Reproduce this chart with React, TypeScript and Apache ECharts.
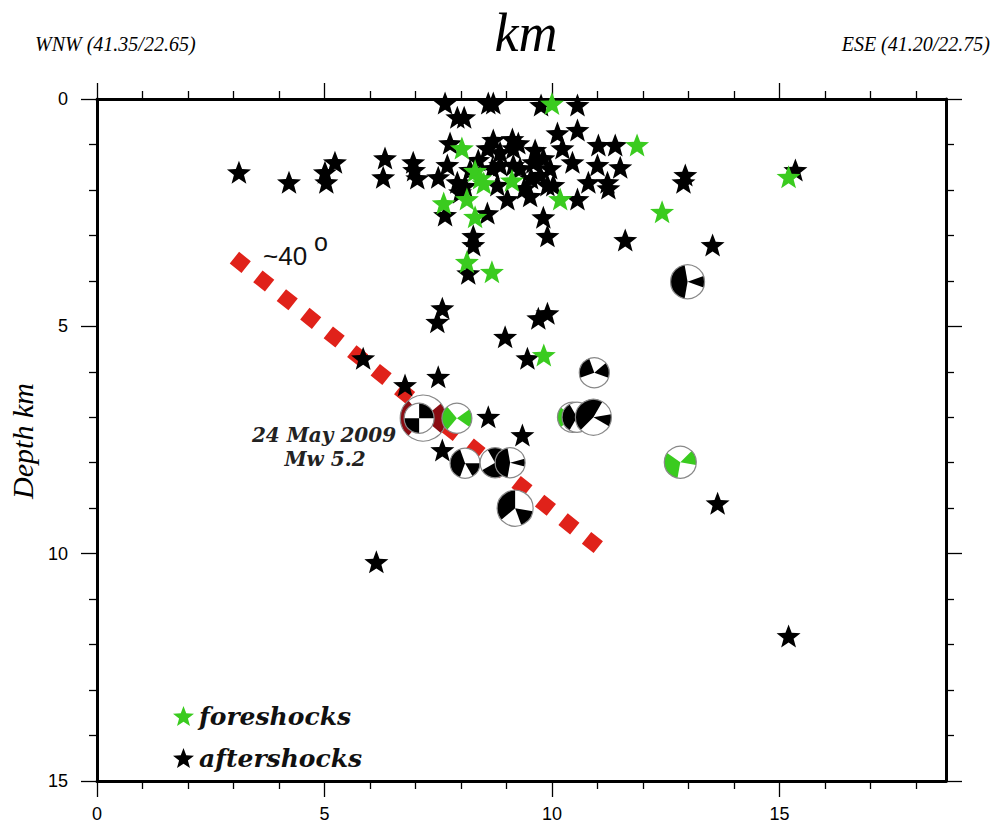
import React, { useEffect, useRef } from "react";
import * as echarts from "echarts";

// ---------- data ----------
const X_MAX = 18.66;
const X_TICK_MAX = 15;
const DEPTH_MAX = 15;

// foreshocks (green stars): distance along profile (km), depth (km)
const foreX = [10.0, 8.02, 8.31, 8.42, 8.5, 9.12, 7.62, 8.13, 8.31, 10.18, 11.87, 12.42, 15.2, 8.13, 8.68, 9.82];
const foreDepth = [0.1, 1.08, 1.58, 1.74, 1.85, 1.79, 2.29, 2.2, 2.59, 2.2, 1.01, 2.48, 1.71, 3.58, 3.8, 5.63];

// aftershocks (black stars)
const afterX = [
  7.65, 8.6, 8.71, 9.76, 10.56, 7.92, 8.07, 3.12, 4.22, 5.23, 5.01, 5.04, 6.33, 6.29, 6.95, 6.97, 7.04, 7.5,
  7.76, 7.7, 7.92, 7.98, 7.65, 8.58, 9.02, 8.58, 8.71, 8.86, 9.13, 9.15, 8.69, 8.86, 9.15, 9.3, 9.26, 9.63,
  9.59, 9.81, 9.96, 9.74, 9.9, 10.03, 10.12, 10.56, 11.02, 11.39, 10.45, 11.0, 11.5, 10.8, 11.22, 11.24,
  10.56, 9.52, 9.81, 9.9, 8.27, 8.27, 8.16, 12.93, 12.89, 15.35, 11.61, 13.53, 7.59, 7.48, 9.9, 9.7, 8.97,
  9.46, 5.85, 6.77, 7.5, 8.6, 9.35, 7.59, 6.14, 15.2, 13.64, 8.38, 8.2, 10.23, 9.54, 9.39, 8.8, 8.09,
];
const afterDepth = [
  0.09, 0.09, 0.09, 0.13, 0.13, 0.4, 0.4, 1.61, 1.83, 1.39, 1.61, 1.83, 1.3, 1.72, 1.39, 1.56, 1.74, 1.72,
  0.97, 1.45, 1.83, 2.05, 2.55, 2.51, 2.2, 1.08, 0.9, 1.17, 0.88, 1.08, 1.52, 1.45, 1.45, 1.52, 0.97, 1.12,
  1.39, 1.3, 1.52, 1.67, 1.89, 1.89, 0.75, 0.68, 1.01, 1.01, 1.39, 1.45, 1.5, 1.83, 1.83, 1.96,
  2.2, 2.13, 2.6, 3.01, 3.01, 3.21, 3.83, 1.67, 1.83, 1.56, 3.1, 3.21, 4.6, 4.9, 4.71, 4.82, 5.23,
  5.7, 5.7, 6.29, 6.11, 6.99, 7.39, 7.72, 10.18, 11.81, 8.89, 1.34, 1.56, 1.08, 1.74, 1.96, 1.89, 1.91,
];

// ~40 degree dipping fault trace
const faultX = [3.02, 11.07];
const faultDepth = [3.49, 9.9];

// focal mechanisms: position, magnitude, kind (0 mainshock, 1 aftershock, 2 foreshock),
// and the two compressional quadrants (screen degrees, start/end)
const mechX = [7.17, 7.08, 7.91, 8.09, 8.75, 9.08, 9.19, 10.93, 10.45, 10.55, 10.91, 12.98, 12.82];
const mechDepth = [7.02, 7.02, 7.02, 8.01, 8.0, 8.0, 9.0, 6.02, 7.0, 7.0, 7.0, 4.02, 7.99];
const mechMag = [5.2, 3.6, 3.6, 3.6, 3.6, 3.6, 4.2, 3.6, 3.6, 3.6, 4.2, 4.0, 3.8];
const mechKind = [0, 1, 2, 1, 1, 1, 1, 1, 2, 1, 1, 1, 2];
const mechQuadA = [[130, 230], [270, 360], [130, 230], [110, 250], [60, 150], [100, 260], [140, 270], [160, 250], [140, 220], [120, 240], [135, 300], [100, 260], [100, 215]];
const mechQuadB = [[-40, 40], [90, 180], [-35, 35], [0, 60], [240, 330], [-15, 15], [10, 70], [-40, 20], [-30, 20], [-30, 20], [-10, 30], [-20, 20], [-45, 10]];

// ---------- styles ----------
const STAR =
  "path://M10 0L12.469 6.602L19.511 6.910L13.995 11.298L15.878 18.090L10 14.2L4.122 18.090L6.005 11.298L0.489 6.910L7.531 6.602Z";
const GREEN = "#3acb1f";
const BLACK = "#000000";
const MAROON = "#8a0c12";
const RED = "#e0221a";
const SANS = "Liberation Sans, Arial, sans-serif";
const SERIF = "Liberation Serif, Times New Roman, serif";
const DSERIF = "DejaVu Serif, serif";

const GRID_LEFT = 97;
const GRID_TOP = 99;
const GRID_W = 849;
const GRID_H = 682;

export default function App() {
  const ref = useRef<HTMLDivElement>(null);

  useEffect(() => {
    if (!ref.current) return;
    const chart = echarts.init(ref.current, null, { renderer: "svg" });

    const lineStyle = { color: "#000", width: 3 };
    const tickStyle = { color: "#000", width: 1.3 };
    const labelStyle = { fontFamily: SANS, fontSize: 18, color: "#000" };

    // frame axes with minor (1 km) ticks, full 0..X_MAX range
    const frameX = (position: string) => ({
      type: "value",
      gridIndex: 0,
      position,
      min: 0,
      max: X_MAX,
      interval: 5,
      axisLine: { show: true, onZero: false, lineStyle },
      axisTick: { show: false },
      minorTick: { show: true, splitNumber: 5, length: 8, lineStyle: tickStyle },
      axisLabel: { show: false },
      splitLine: { show: false },
      minorSplitLine: { show: false },
    });
    // major ticks + labels, 0..15 km
    const majorX = (position: string, labels: boolean) => ({
      type: "value",
      gridIndex: 1,
      position,
      min: 0,
      max: X_TICK_MAX,
      interval: 5,
      axisLine: { show: false, onZero: false },
      axisTick: { show: true, inside: false, length: 16, lineStyle: tickStyle },
      minorTick: { show: false },
      axisLabel: labels ? { show: true, margin: 24, ...labelStyle } : { show: false },
      splitLine: { show: false },
    });
    const frameY = (position: string, labels: boolean) => ({
      type: "value",
      gridIndex: 0,
      position,
      min: 0,
      max: DEPTH_MAX,
      interval: 5,
      inverse: true,
      axisLine: { show: true, onZero: false, lineStyle },
      axisTick: { show: true, inside: false, length: 16, lineStyle: tickStyle },
      minorTick: { show: true, splitNumber: 5, length: 8, lineStyle: tickStyle },
      axisLabel: labels ? { show: true, margin: 29, ...labelStyle } : { show: false },
      splitLine: { show: false },
      minorSplitLine: { show: false },
    });

    const mechData = mechX.map((x, i) => [
      x,
      mechDepth[i],
      mechMag[i],
      mechKind[i],
      mechQuadA[i][0],
      mechQuadA[i][1],
      mechQuadB[i][0],
      mechQuadB[i][1],
    ]);

    const option: any = {
      animation: false,
      backgroundColor: "#fff",
      grid: [
        { left: GRID_LEFT, top: GRID_TOP, width: GRID_W, height: GRID_H, containLabel: false },
        { left: GRID_LEFT, top: GRID_TOP, width: (GRID_W * X_TICK_MAX) / X_MAX, height: GRID_H, containLabel: false },
      ],
      xAxis: [frameX("bottom"), frameX("top"), majorX("bottom", true), majorX("top", false)],
      yAxis: [
        frameY("left", true),
        frameY("right", false),
        { type: "value", gridIndex: 1, min: 0, max: DEPTH_MAX, inverse: true, show: false },
      ],
      legend: {
        data: [
          { name: "foreshocks", icon: STAR },
          { name: "aftershocks", icon: STAR },
        ],
        orient: "vertical",
        left: 168,
        top: 697,
        itemWidth: 21,
        itemHeight: 20,
        itemGap: 14,
        selectedMode: false,
        textStyle: {
          fontFamily: DSERIF,
          fontStyle: "italic",
          fontWeight: "bold",
          fontSize: 25,
          lineHeight: 28,
          color: "#111",
        },
      },
      series: [
        {
          name: "fault",
          type: "line",
          xAxisIndex: 0,
          yAxisIndex: 0,
          data: faultX.map((x, i) => [x, faultDepth[i]]),
          showSymbol: false,
          symbol: "none",
          silent: true,
          z: 1,
          lineStyle: { color: RED, width: 15, type: [15, 15], cap: "butt", opacity: 1 },
        },
        {
          name: "aftershocks",
          type: "scatter",
          xAxisIndex: 0,
          yAxisIndex: 0,
          data: afterX.map((x, i) => [x, afterDepth[i]]),
          symbol: STAR,
          symbolSize: [24, 23],
          itemStyle: { color: BLACK, opacity: 1 },
          z: 2,
        },
        {
          name: "foreshocks",
          type: "scatter",
          xAxisIndex: 0,
          yAxisIndex: 0,
          data: foreX.map((x, i) => [x, foreDepth[i]]),
          symbol: STAR,
          symbolSize: [24, 23],
          itemStyle: { color: GREEN, opacity: 1 },
          z: 3,
        },
        {
          name: "mechanisms",
          type: "custom",
          xAxisIndex: 0,
          yAxisIndex: 0,
          z: 4,
          silent: true,
          encode: { x: 0, y: 1 },
          data: mechData,
          renderItem: (params: any, api: any) => {
            const c = api.coord([api.value(0), api.value(1)]);
            const r = 15 + (api.value(2) - 3.6) * 5;
            const kind = api.value(3);
            const fill = kind === 0 ? MAROON : kind === 2 ? GREEN : BLACK;
            const d = (v: number) => (v * Math.PI) / 180;
            return {
              type: "group",
              children: [
                { type: "circle", shape: { cx: c[0], cy: c[1], r }, style: { fill: "#fff" } },
                {
                  type: "sector",
                  shape: { cx: c[0], cy: c[1], r, r0: 0, startAngle: d(api.value(4)), endAngle: d(api.value(5)), clockwise: true },
                  style: { fill },
                },
                {
                  type: "sector",
                  shape: { cx: c[0], cy: c[1], r, r0: 0, startAngle: d(api.value(6)), endAngle: d(api.value(7)), clockwise: true },
                  style: { fill },
                },
                {
                  type: "circle",
                  shape: { cx: c[0], cy: c[1], r },
                  style: { fill: "none", stroke: "#888", lineWidth: 1.2 },
                },
              ],
            };
          },
        },
      ],
      graphic: [
        {
          type: "text",
          x: 526,
          y: 33,
          style: { text: "km", fontFamily: SERIF, fontStyle: "italic", fontSize: 54, fill: "#000", align: "center", verticalAlign: "middle" },
        },
        {
          type: "text",
          x: 35,
          y: 44,
          style: { text: "WNW (41.35/22.65)", fontFamily: SERIF, fontStyle: "italic", fontSize: 20, fill: "#000", align: "left", verticalAlign: "middle" },
        },
        {
          type: "text",
          x: 990,
          y: 44,
          style: { text: "ESE (41.20/22.75)", fontFamily: SERIF, fontStyle: "italic", fontSize: 20, fill: "#000", align: "right", verticalAlign: "middle" },
        },
        {
          type: "text",
          x: 22,
          y: 441,
          rotation: Math.PI / 2,
          style: { text: "Depth km", fontFamily: SERIF, fontStyle: "italic", fontSize: 30, fill: "#000", align: "center", verticalAlign: "middle" },
        },
        {
          type: "text",
          x: 263,
          y: 256,
          z: 10,
          style: { text: "~40", fontFamily: SANS, fontSize: 26, fill: "#111", align: "left", verticalAlign: "middle" },
        },
        {
          type: "text",
          x: 321,
          y: 242,
          z: 10,
          style: { text: "o", fontFamily: SANS, fontSize: 25, fill: "#111", align: "center", verticalAlign: "middle" },
        },
        {
          type: "text",
          x: 324,
          y: 435,
          z: 10,
          style: { text: "24 May 2009", fontFamily: DSERIF, fontStyle: "italic", fontWeight: "bold", fontSize: 20, fill: "#222", align: "center", verticalAlign: "middle" },
        },
        {
          type: "text",
          x: 325,
          y: 459,
          z: 10,
          style: { text: "Mw 5.2", fontFamily: DSERIF, fontStyle: "italic", fontWeight: "bold", fontSize: 20, fill: "#222", align: "center", verticalAlign: "middle" },
        },
      ],
    };

    chart.setOption(option);
    return () => chart.dispose();
  }, []);

  return (
    <div
      ref={ref}
      style={{ position: "absolute", left: 0, top: 0, width: 999, height: 831, background: "#fff" }}
    />
  );
}
